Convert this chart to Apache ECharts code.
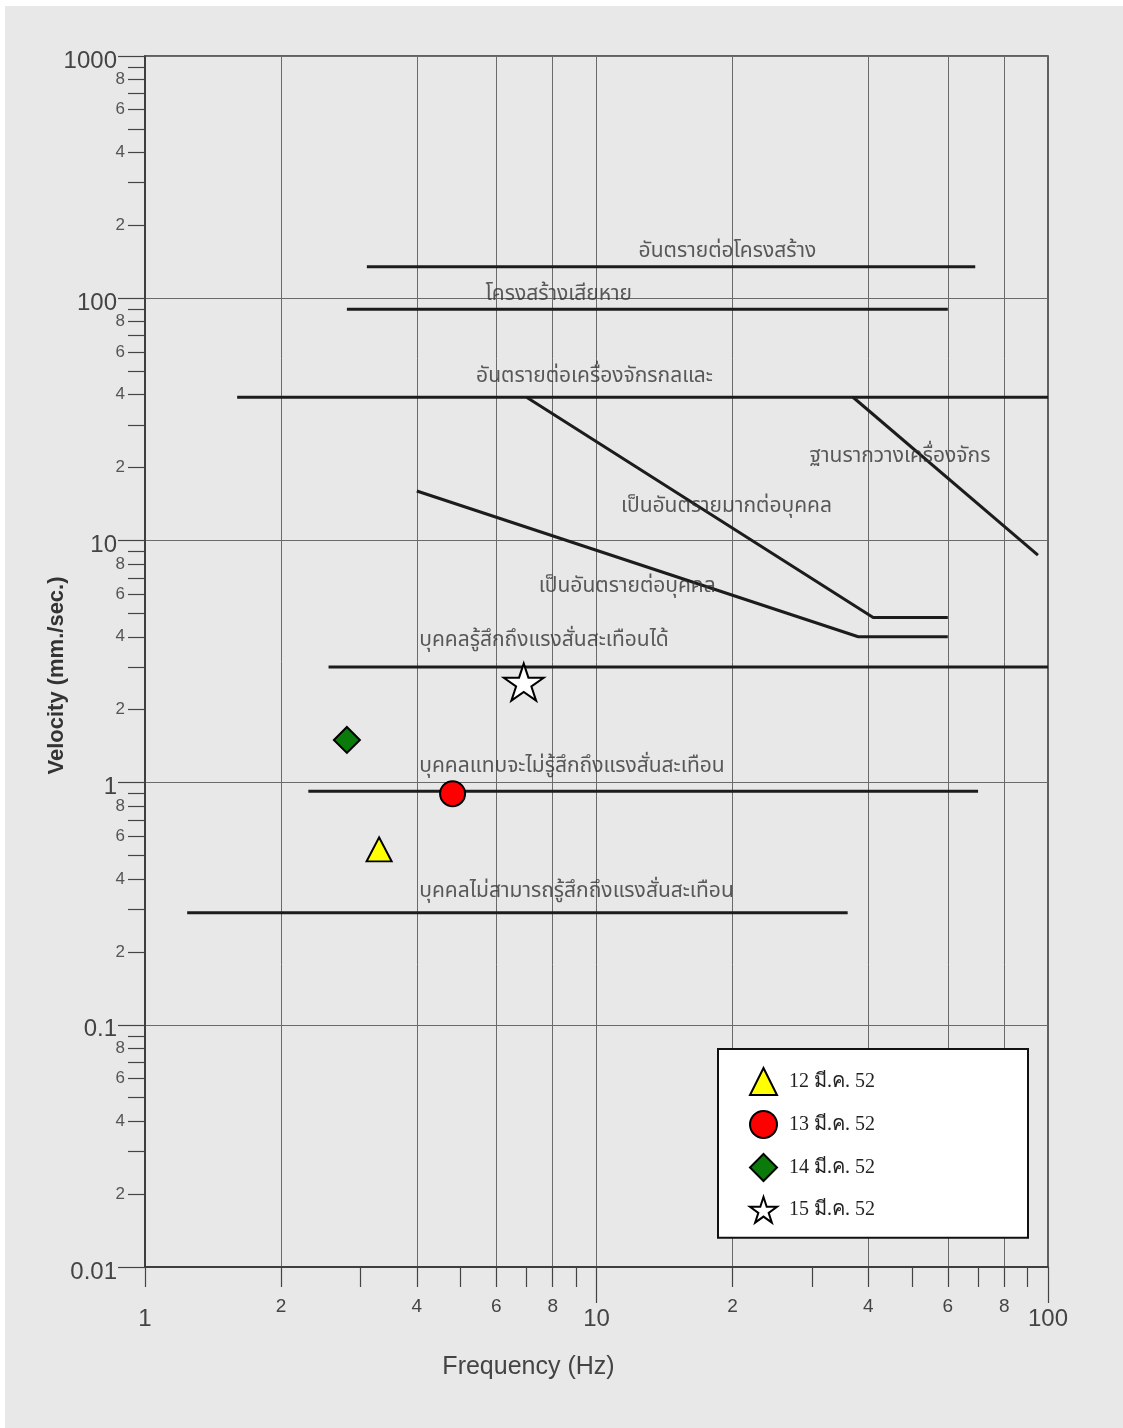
<!DOCTYPE html>
<html>
<head>
<meta charset="utf-8">
<script src="https://cdn.jsdelivr.net/npm/echarts@6/dist/echarts.min.js"></script>
<style>
  html, body { margin: 0; padding: 0; background: #ffffff; }
  #chart { width: 1123px; height: 1428px; }
</style>
</head>
<body>
<div id="chart"></div>
<script>
// ---- axis ticks (Hz and mm/s, log-log) ----
const xDecades = [1, 10, 100];
const xDecadeTicks = [10, 100];
const xMinorTicks = [1, 2, 3, 4, 5, 6, 7, 8, 9, 20, 30, 40, 50, 60, 70, 80, 90];
const xMinorLabels = [2, 4, 6, 8, 20, 40, 60, 80];
const xGridValues = [2, 4, 6, 8, 10, 20, 40, 60, 80];

const yDecades = [0.01, 0.1, 1, 10, 100, 1000];
const yDecadeText = ['0.01', '0.1', '1', '10', '100', '1000'];
const yMultipliers = [2, 3, 4, 5, 6, 7, 8, 9];
const yLabelMultipliers = [2, 4, 6, 8];

// ---- criterion lines: [frequency Hz, velocity mm/s] ----
const lineStructureDanger = [[3.1, 135], [69, 135]];
const lineStructureDamage = [[2.8, 90], [60, 90]];
const lineMachineDanger = [[1.6, 39], [100, 39]];
const lineVeryDangerPerson = [[7, 39], [41, 4.8], [60, 4.8]];
const lineDangerPerson = [[4, 16], [38, 4], [60, 4]];
const lineFoundation = [[37, 39], [95, 8.7]];
const linePersonFeels = [[2.55, 3], [100, 3]];
const linePersonBarely = [[2.3, 0.92], [70, 0.92]];
const linePersonNot = [[1.24, 0.29], [36, 0.29]];

// ---- criterion captions: text, anchor [Hz, mm/s] ----
const captionText = [
  'อันตรายต่อโครงสร้าง',
  'โครงสร้างเสียหาย',
  'อันตรายต่อเครื่องจักรกลและ',
  'เป็นอันตรายมากต่อบุคคล',
  'เป็นอันตรายต่อบุคคล',
  'ฐานรากวางเครื่องจักร',
  'บุคคลรู้สึกถึงแรงสั่นสะเทือนได้',
  'บุคคลแทบจะไม่รู้สึกถึงแรงสั่นสะเทือน',
  'บุคคลไม่สามารถรู้สึกถึงแรงสั่นสะเทือน'
];
const captionAnchor = [
  [19.5, 135], [8.25, 90], [9.9, 39],
  [19.4, 13.6], [11.7, 6.37], [47, 21.9],
  [4.05, 3], [4.05, 0.92], [4.05, 0.29]
];

// ---- measured events ----
const eventNames = ['12 มี.ค. 52', '13 มี.ค. 52', '14 มี.ค. 52', '15 มี.ค. 52'];
const eventFreq = [3.3, 4.8, 2.8, 6.9];
const eventVelocity = [0.53, 0.9, 1.5, 2.6];

// ---- helpers ----
function expand(decades, mults) {
  const out = [];
  decades.forEach(d => mults.forEach(m => out.push(+(d * m).toPrecision(6))));
  return out;
}
function leadDigit(v) {
  const e = Math.floor(Math.log10(v) + 1e-9);
  return String(Math.round(v / Math.pow(10, e)));
}
function decadeText(v) {
  for (let i = 0; i < yDecades.length; i++) {
    if (Math.abs(Math.log10(v) - Math.log10(yDecades[i])) < 1e-6) return '{d|' + yDecadeText[i] + '}';
  }
  return '';
}

const yMinorTicks = expand(yDecades.slice(0, 5), yMultipliers);
const yMinorLabels = expand(yDecades.slice(0, 5), yLabelMultipliers);

const NUM_FONT = '"Liberation Sans", Arial, sans-serif';
const THAI_FONT = '"Noto Sans Thai", "Noto Sans Thai UI", Loma, Garuda, "Tlwg Typo", sans-serif';
const SERIF_FONT = '"Liberation Serif", "DejaVu Serif", serif';
const INK = '#1c1c1c';

const logX = { type: 'log', logBase: 10, min: 1, max: 100, position: 'bottom' };
const logY = { type: 'log', logBase: 10, min: 0.01, max: 1000, position: 'left' };

const criterionLines = [
  lineStructureDanger, lineStructureDamage, lineMachineDanger,
  lineVeryDangerPerson, lineDangerPerson, lineFoundation,
  linePersonFeels, linePersonBarely, linePersonNot
];

const captionDistance = [3, 3, 8, 0, 0, 0, 14, 13, 9];
const captionData = captionText.map((t, i) => {
  const horizontal = i < 3 || i > 5;
  const leftAligned = i > 5;
  return {
    name: t,
    value: captionAnchor[i],
    label: horizontal
      ? { position: 'top', distance: captionDistance[i], align: leftAligned ? 'left' : 'center' }
      : { position: 'inside' }
  };
});

const starPath = 'path://M50,0 L61.8,36.2 L100,36.2 L69.1,58.6 L80.9,95 L50,72.6 L19.1,95 L30.9,58.6 L0,36.2 L38.2,36.2 Z';
const eventSymbols = ['triangle', 'circle', 'diamond', starPath];
const eventSizes = [[25, 24], 25, [26, 26], [40, 37]];
const eventColors = ['#ffff00', '#ff0000', '#0a7a0a', '#ffffff'];

const series = [];
criterionLines.forEach((pts, i) => {
  series.push({
    type: 'line',
    name: 'criterion' + i,
    data: pts,
    symbol: 'none',
    silent: true,
    z: 3,
    lineStyle: { color: INK, width: 3 }
  });
});
series.push({
  type: 'scatter',
  name: 'captions',
  data: captionData,
  symbolSize: 0,
  silent: true,
  z: 4,
  label: {
    show: true,
    formatter: p => p.name,
    fontFamily: THAI_FONT,
    fontSize: 21,
    lineHeight: 22,
    color: '#333'
  }
});
eventNames.forEach((n, i) => {
  series.push({
    type: 'scatter',
    name: n,
    data: [[eventFreq[i], eventVelocity[i]]],
    symbol: eventSymbols[i],
    symbolSize: eventSizes[i],
    z: 10,
    itemStyle: { color: eventColors[i], borderColor: '#000', borderWidth: 2, opacity: 1 }
  });
});

const chart = echarts.init(document.getElementById('chart'), null, { renderer: 'canvas' });
chart.setOption({
  animation: false,
  backgroundColor: 'transparent',
  graphic: [{
    type: 'rect', z: -100, silent: true,
    shape: { x: 5, y: 6, width: 1118, height: 1422 },
    style: { fill: '#e8e8e8' }
  }],
  grid: {
    left: 145, top: 56, right: 75, bottom: 161,
    show: true, borderColor: '#333', borderWidth: 1.5,
    backgroundColor: 'transparent',
    outerBoundsMode: 'none'
  },
  legend: {
    orient: 'vertical',
    left: 718, top: 1049,
    padding: [18, 10, 14, 31],
    itemWidth: 27, itemHeight: 27, itemGap: 14,
    backgroundColor: '#ffffff',
    borderColor: '#111', borderWidth: 2, borderRadius: 0,
    selectedMode: false,
    data: eventNames,
    formatter: n => '{t|' + n + '}',
    textStyle: {
      fontFamily: SERIF_FONT, fontSize: 20, color: '#222',
      rich: { t: { fontFamily: SERIF_FONT, fontSize: 20, color: '#222', width: 229, lineHeight: 27, padding: [0, 0, 0, 7] } }
    }
  },
  xAxis: [
    Object.assign({}, logX, {
      axisLine: { show: true, lineStyle: { color: '#333', width: 1.5 } },
      axisTick: { show: true, customValues: xDecadeTicks, length: 36, lineStyle: { color: '#444', width: 1.2 } },
      axisLabel: { customValues: xDecades, formatter: v => String(Math.round(v)), fontFamily: NUM_FONT, fontSize: 24, margin: 40, color: '#444' },
      splitLine: { show: false },
      name: 'Frequency (Hz)',
      nameLocation: 'middle',
      nameGap: 88,
      nameTextStyle: { fontFamily: NUM_FONT, fontSize: 25, color: '#444', padding: [0, 136, 0, 0] }
    }),
    Object.assign({}, logX, {
      axisLine: { show: false },
      axisTick: { show: true, customValues: xMinorTicks, length: 20, lineStyle: { color: '#444', width: 1.2 } },
      axisLabel: { customValues: xMinorLabels, formatter: leadDigit, fontFamily: NUM_FONT, fontSize: 19, margin: 30, color: '#444' },
      splitLine: { show: false }
    }),
    Object.assign({}, logX, {
      axisLine: { show: false },
      axisTick: { show: false, customValues: xGridValues },
      axisLabel: { show: false },
      splitLine: { show: true, lineStyle: { color: '#6a6a6a', width: 1 } }
    })
  ],
  yAxis: [
    Object.assign({}, logY, {
      axisLine: { show: true, lineStyle: { color: '#333', width: 1.5 } },
      axisTick: { show: true, customValues: yDecades, length: 27, lineStyle: { color: '#444', width: 1.2 } },
      axisLabel: {
        customValues: yDecades, formatter: decadeText, margin: 28,
        rich: { d: { fontFamily: NUM_FONT, fontSize: 24, color: '#444', padding: [10, 0, 0, 0] } }
      },
      splitLine: { show: true, lineStyle: { color: '#6a6a6a', width: 1 } },
      name: 'Velocity (mm./sec.)',
      nameLocation: 'middle',
      nameGap: 77,
      nameMoveOverlap: false,
      nameTextStyle: { fontFamily: NUM_FONT, fontSize: 22, fontWeight: 'bold', color: '#333', padding: [0, 28, 0, 0] }
    }),
    Object.assign({}, logY, {
      axisLine: { show: false },
      axisTick: { show: true, customValues: yMinorTicks, length: 17, lineStyle: { color: '#444', width: 1.2 } },
      axisLabel: { customValues: yMinorLabels, formatter: leadDigit, fontFamily: NUM_FONT, fontSize: 17, margin: 20, color: '#555' },
      splitLine: { show: false }
    })
  ],
  series: series
});
</script>
</body>
</html>
